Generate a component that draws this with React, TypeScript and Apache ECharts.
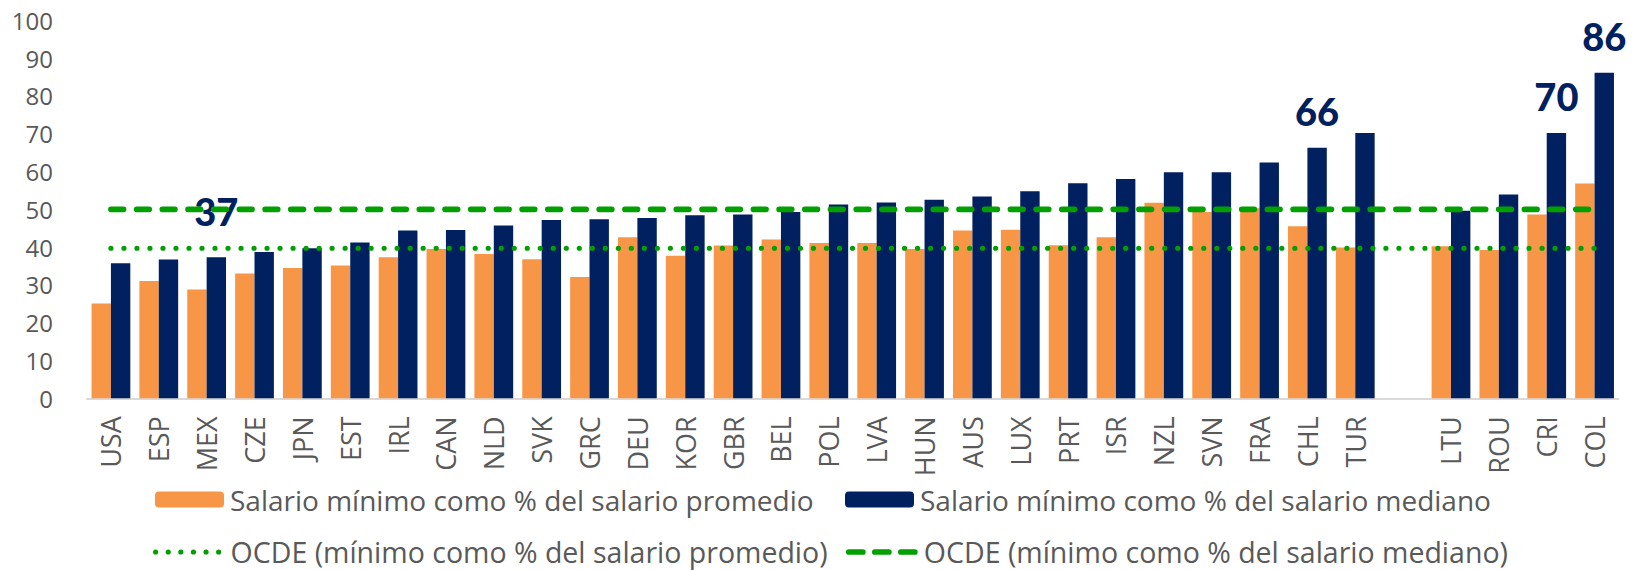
import React, { useEffect, useRef } from "react";
import * as echarts from "echarts";

const categories = [
  "USA", "ESP", "MEX", "CZE", "JPN", "EST", "IRL", "CAN", "NLD", "SVK",
  "GRC", "DEU", "KOR", "GBR", "BEL", "POL", "LVA", "HUN", "AUS", "LUX",
  "PRT", "ISR", "NZL", "SVN", "FRA", "CHL", "TUR", "", "LTU", "ROU", "CRI", "COL",
];

const promedio = [
  25.1, 31.0, 28.8, 33.0, 34.5, 35.1, 37.3, 39.5, 38.2, 36.8,
  32.1, 42.6, 37.7, 40.4, 42.0, 41.1, 41.1, 39.5, 44.4, 44.6,
  40.5, 42.6, 51.7, 49.3, 50.3, 45.5, 39.9, null, 40.2, 39.2, 48.6, 56.8,
];

const mediano = [
  35.7, 36.7, 37.3, 38.7, 39.7, 41.2, 44.4, 44.5, 45.7, 47.2,
  47.4, 47.7, 48.4, 48.6, 49.3, 51.3, 51.8, 52.5, 53.4, 54.8,
  56.9, 58.0, 59.8, 59.8, 62.4, 66.3, 70.2, null, 49.6, 53.9, 70.2, 86.1,
];

// labelled bars: category -> shown text
const labelledBars: Record<string, string> = { MEX: "37", CHL: "66", CRI: "70", COL: "86" };

const ocdePromedio = 39.7;
const ocdeMediano = 50;

const seriesNames = [
  "Salario mínimo como % del salario promedio",
  "Salario mínimo como % del salario mediano",
  "OCDE (mínimo como % del salario promedio)",
  "OCDE (mínimo como % del salario mediano)",
];

const ORANGE = "#F79646";
const NAVY = "#002060";
const GREEN = "#00A000";
const GRAY = "#595959";
const FONT = "'Open Sans', Lato, sans-serif";
const BOLD_FONT = "Lato, 'Open Sans', sans-serif";

const dottedStyle = { color: GREEN, width: 5.2, type: [0.01, 13], cap: "round" };
const dashedStyle = { color: GREEN, width: 5.7, type: [12.6, 13.1], cap: "round" };

export default function App() {
  const ref = useRef<HTMLDivElement>(null);

  useEffect(() => {
    document.body.style.margin = "0";
    if (!ref.current) return;
    const chart = echarts.init(ref.current, null, { renderer: "svg" });

    const navyData = mediano.map((v, i) => {
      const c = categories[i];
      if (labelledBars[c]) {
        return {
          value: v,
          label: {
            show: true,
            position: "top",
            distance: c === "MEX" ? 27 : 18,
            formatter: labelledBars[c],
            color: NAVY,
            fontSize: 38,
            fontWeight: 900,
            fontFamily: BOLD_FONT,
          },
        };
      }
      return v;
    });

    const legendBase = {
      padding: 0,
      itemWidth: 69,
      itemHeight: 16,
      itemGap: 0,
      textStyle: { color: GRAY, fontSize: 28, fontFamily: FONT, lineHeight: 34, padding: [0, 0, 0, 1] },
    };

    chart.setOption({
      animation: false,
      grid: { left: 87, right: 17.5, top: 20.3, height: 378, containLabel: false },
      legend: [
        { ...legendBase, left: 155, top: 482.5, data: [seriesNames[0]] },
        { ...legendBase, left: 845, top: 482.5, data: [seriesNames[1]] },
        {
          ...legendBase,
          left: 153,
          top: 535,
          data: [seriesNames[2]],
          itemStyle: { opacity: 0 },
          lineStyle: { ...dottedStyle, type: [0.01, 12.6] },
          textStyle: { ...legendBase.textStyle, fontSize: 28.5 },
        },
        {
          ...legendBase,
          left: 846,
          top: 535,
          data: [seriesNames[3]],
          itemStyle: { opacity: 0 },
          lineStyle: { ...dashedStyle, type: [14, 12] },
          textStyle: { ...legendBase.textStyle, fontSize: 28.5 },
        },
      ],
      xAxis: {
        type: "category",
        data: categories,
        axisLine: { show: true, lineStyle: { color: "#D9D9D9", width: 2 } },
        axisTick: { show: false },
        axisLabel: {
          rotate: 90,
          interval: 0,
          margin: 18,
          color: GRAY,
          fontSize: 27,
          fontFamily: FONT,
        },
      },
      yAxis: {
        type: "value",
        min: 0,
        max: 100,
        interval: 10,
        splitLine: { show: false },
        axisLine: { show: false },
        axisTick: { show: false },
        axisLabel: { color: GRAY, fontSize: 24, fontFamily: FONT, margin: 34 },
      },
      series: [
        {
          name: seriesNames[0],
          type: "bar",
          data: promedio,
          barGap: "0%",
          barCategoryGap: "19%",
          itemStyle: { color: ORANGE },
        },
        {
          name: seriesNames[1],
          type: "bar",
          data: navyData,
          barGap: "0%",
          barCategoryGap: "19%",
          itemStyle: { color: NAVY },
        },
        {
          name: seriesNames[2],
          type: "line",
          data: categories.map(() => ocdePromedio),
          symbol: "none",
          lineStyle: dottedStyle,
          itemStyle: { color: GREEN },
          z: 5,
        },
        {
          name: seriesNames[3],
          type: "line",
          data: categories.map(() => ocdeMediano),
          symbol: "none",
          lineStyle: dashedStyle,
          itemStyle: { color: GREEN },
          z: 5,
        },
      ],
    });

    return () => chart.dispose();
  }, []);

  return <div ref={ref} style={{ width: 1636, height: 570 }} />;
}
